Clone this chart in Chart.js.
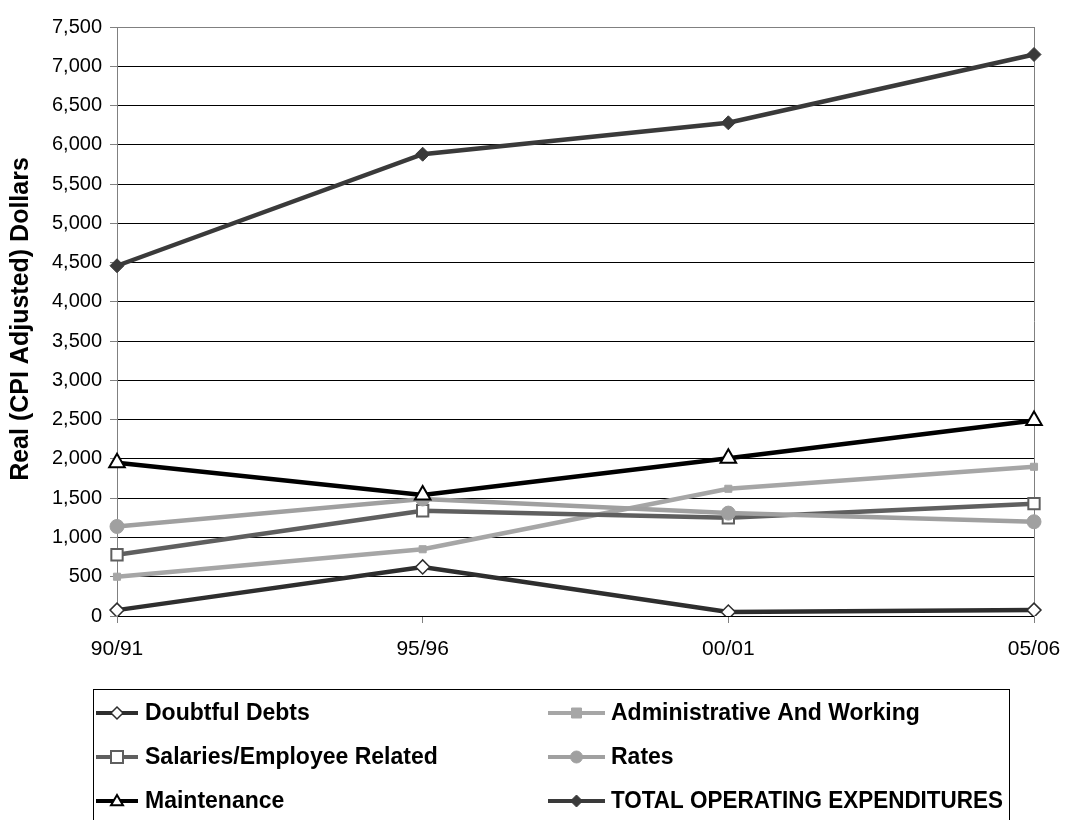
<!DOCTYPE html>
<html>
<head>
<meta charset="utf-8">
<script src="https://cdn.jsdelivr.net/npm/chart.js@4.4.1/dist/chart.umd.min.js"></script>
<style>
  html, body { margin: 0; padding: 0; background: #fff; }
  #wrap { width: 1065px; height: 820px; position: relative; }
</style>
</head>
<body>
<div id="wrap"><canvas id="opexChart"></canvas></div>
<script>
// Data
const periods = ['90/91', '95/96', '00/01', '05/06'];
const doubtfulDebts = [75, 625, 50, 75];
const adminWorking = [500, 850, 1620, 1900];
const salaries = [780, 1340, 1250, 1430];
const rates = [1140, 1490, 1310, 1200];
const maintenance = [1950, 1540, 2010, 2490];
const totalOpex = [4460, 5880, 6280, 7150];
const yTicks = [0, 500, 1000, 1500, 2000, 2500, 3000, 3500, 4000, 4500, 5000, 5500, 6000, 6500, 7000, 7500];

const FONT = '"Liberation Sans", Arial, sans-serif';

function series(label, data, color, style, radius, fill, bw) {
  return {
    label: label,
    data: data,
    borderColor: color,
    backgroundColor: color,
    borderWidth: 4.5,
    tension: 0,
    pointStyle: style,
    pointRadius: radius,
    pointHoverRadius: radius,
    pointBackgroundColor: fill,
    pointBorderColor: style === 'triangle' ? '#000' : color,
    pointBorderWidth: bw,
  };
}

const datasets = [
  series('Doubtful Debts', doubtfulDebts, '#2e2e2e', 'rectRot', 7, '#fff', 1.5),
  series('Administrative And Working', adminWorking, '#a6a6a6', 'rect', 5, '#a6a6a6', 1),
  series('Salaries/Employee Related', salaries, '#5f5f5f', 'rect', 8, '#fff', 2),
  series('Rates', rates, '#a0a0a0', 'circle', 7, '#a0a0a0', 1),
  series('Maintenance', maintenance, '#000000', 'triangle', 9, '#fff', 2),
  series('TOTAL OPERATING EXPENDITURES', totalOpex, '#3a3a3a', 'rectRot', 7, '#3a3a3a', 1),
];
// later series on top
datasets.forEach((d, i) => { d.order = datasets.length - i; });

function drawMarker(ctx, ds, x, y, r) {
  ctx.save();
  ctx.fillStyle = ds.pointBackgroundColor;
  ctx.strokeStyle = ds.pointBorderColor;
  ctx.lineWidth = ds.pointBorderWidth;
  ctx.beginPath();
  if (ds.pointStyle === 'circle') {
    ctx.arc(x, y, r, 0, Math.PI * 2);
  } else if (ds.pointStyle === 'rect') {
    ctx.rect(x - r, y - r, r * 2, r * 2);
  } else if (ds.pointStyle === 'rectRot') {
    ctx.moveTo(x, y - r); ctx.lineTo(x + r, y); ctx.lineTo(x, y + r); ctx.lineTo(x - r, y); ctx.closePath();
  } else if (ds.pointStyle === 'triangle') {
    ctx.moveTo(x, y - r); ctx.lineTo(x + r, y + r * 0.7); ctx.lineTo(x - r, y + r * 0.7); ctx.closePath();
  }
  ctx.fill();
  ctx.stroke();
  ctx.restore();
}

// Legend box and y title drawn by hand
const extras = {
  id: 'extras',
  afterDraw(chart) {
    const ctx = chart.ctx;
    ctx.save();

    // y axis title
    ctx.translate(21, 319);
    ctx.rotate(-Math.PI / 2);
    ctx.font = 'bold 25px ' + FONT;
    ctx.fillStyle = '#000';
    ctx.textAlign = 'center';
    ctx.textBaseline = 'middle';
    ctx.fillText('Real (CPI Adjusted) Dollars', 0, 0, 340);
    ctx.setTransform(1, 0, 0, 1, 0, 0);

    // legend frame
    ctx.strokeStyle = '#000';
    ctx.lineWidth = 1;
    ctx.strokeRect(93.5, 689.5, 916, 140);

    const rowsY = [713, 757, 801];
    const cols = [{ x1: 96, x2: 138, tx: 145 }, { x1: 548, x2: 605, tx: 611 }];
    chart.data.datasets.forEach((ds, i) => {
      const c = cols[i % 2];
      const y = rowsY[Math.floor(i / 2)];
      ctx.strokeStyle = ds.borderColor;
      ctx.lineWidth = 4;
      ctx.beginPath();
      ctx.moveTo(c.x1, y);
      ctx.lineTo(c.x2, y);
      ctx.stroke();
      drawMarker(ctx, ds, (c.x1 + c.x2) / 2, y, Math.min(ds.pointRadius, 6));
      ctx.font = 'bold 23px ' + FONT;
      ctx.fillStyle = '#000';
      ctx.textAlign = 'left';
      ctx.textBaseline = 'middle';
      ctx.fillText(ds.label, c.tx, y + 1, 1003 - c.tx);
    });
    ctx.restore();
  },
};

const ctx = document.getElementById('opexChart').getContext('2d');
new Chart(ctx, {
  type: 'line',
  data: { labels: periods, datasets: datasets },
  options: {
    responsive: true,
    maintainAspectRatio: false,
    animation: false,
    layout: { padding: { top: 27, right: 31, left: 0, bottom: 0 } },
    plugins: {
      legend: { display: false },
      tooltip: { enabled: false },
    },
    scales: {
      x: {
        type: 'category',
        offset: false,
        afterFit: (scale) => {
          scale.height = 204;
          scale.paddingLeft = 0;
          scale.paddingRight = 0;
        },
        grid: {
          drawOnChartArea: true,
          color: (c) => (c.index === periods.length - 1 ? '#808080' : 'rgba(0,0,0,0)'),
          tickColor: '#808080',
          tickLength: 7,
          lineWidth: 1,
        },
        border: { display: false },
        ticks: {
          color: '#000',
          font: { family: FONT, size: 21 },
          padding: 14,
          maxRotation: 0,
        },
      },
      y: {
        min: 0,
        max: 7500,
        afterFit: (scale) => { scale.width = 117; },
        afterBuildTicks: (scale) => { scale.ticks = yTicks.map((v) => ({ value: v })); },
        grid: {
          color: (c) => (c.index === yTicks.length - 1 ? '#808080' : '#000'),
          tickColor: '#808080',
          tickLength: 7,
          lineWidth: 1,
        },
        border: { display: true, color: '#808080', width: 1 },
        ticks: {
          color: '#000',
          font: { family: FONT, size: 20 },
          padding: 8,
          callback: (v) => v.toLocaleString('en-US'),
        },
      },
    },
  },
  plugins: [extras],
});
</script>
</body>
</html>
